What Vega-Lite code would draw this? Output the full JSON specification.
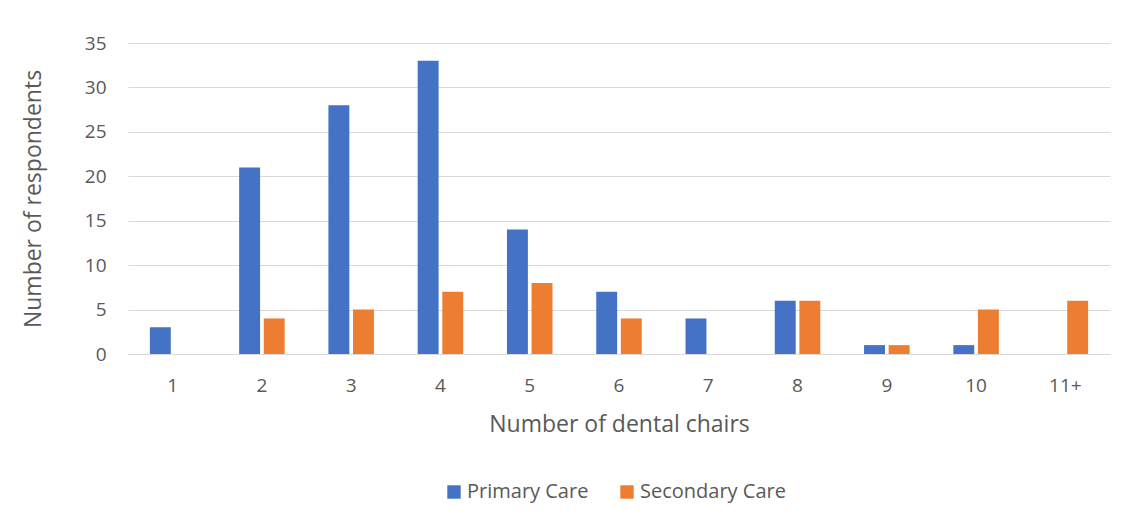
{
  "$schema": "https://vega.github.io/schema/vega-lite/v6.json",
  "autosize": {"type": "none"},
  "width": 982,
  "height": 311,
  "padding": {"left": 128, "top": 43, "right": 27, "bottom": 171},
  "background": "white",
  "data": {"values": [
    {"chairs": "1", "care": "Primary Care", "n": 3},
    {"chairs": "2", "care": "Primary Care", "n": 21},
    {"chairs": "3", "care": "Primary Care", "n": 28},
    {"chairs": "4", "care": "Primary Care", "n": 33},
    {"chairs": "5", "care": "Primary Care", "n": 14},
    {"chairs": "6", "care": "Primary Care", "n": 7},
    {"chairs": "7", "care": "Primary Care", "n": 4},
    {"chairs": "8", "care": "Primary Care", "n": 6},
    {"chairs": "9", "care": "Primary Care", "n": 1},
    {"chairs": "10", "care": "Primary Care", "n": 1},
    {"chairs": "11+", "care": "Primary Care", "n": 0},
    {"chairs": "1", "care": "Secondary Care", "n": 0},
    {"chairs": "2", "care": "Secondary Care", "n": 4},
    {"chairs": "3", "care": "Secondary Care", "n": 5},
    {"chairs": "4", "care": "Secondary Care", "n": 7},
    {"chairs": "5", "care": "Secondary Care", "n": 8},
    {"chairs": "6", "care": "Secondary Care", "n": 4},
    {"chairs": "7", "care": "Secondary Care", "n": 0},
    {"chairs": "8", "care": "Secondary Care", "n": 6},
    {"chairs": "9", "care": "Secondary Care", "n": 1},
    {"chairs": "10", "care": "Secondary Care", "n": 5},
    {"chairs": "11+", "care": "Secondary Care", "n": 6}
  ]},
  "mark": {"type": "bar"},
  "encoding": {
    "x": {
      "field": "chairs", "type": "nominal", "sort": null,
      "scale": {"paddingInner": 0.49, "paddingOuter": 0.245},
      "axis": {
        "title": "Number of dental chairs", "labelAngle": 0, "ticks": false,
        "domain": true, "domainColor": "#d9d9d9", "domainWidth": 1,
        "labelPadding": 22, "titlePadding": 18, "grid": false
      }
    },
    "xOffset": {"field": "care", "type": "nominal", "scale": {"paddingInner": 0.15}},
    "y": {
      "field": "n", "type": "quantitative",
      "scale": {"domain": [0, 35]},
      "axis": {
        "title": "Number of respondents", "values": [0, 5, 10, 15, 20, 25, 30, 35],
        "ticks": false, "domain": false, "grid": true, "gridColor": "#d9d9d9",
        "labelPadding": 22, "titlePadding": 39
      }
    },
    "color": {
      "field": "care", "type": "nominal",
      "scale": {"domain": ["Primary Care", "Secondary Care"], "range": ["#4472c4", "#ed7d31"]},
      "legend": {
        "title": null, "orient": "none", "direction": "horizontal",
        "legendX": 316, "legendY": 439, "symbolType": "square", "symbolSize": 180,
        "columnPadding": 28, "labelOffset": 3, "labelFontSize": 20, "labelColor": "#595959", "labelFont": "Open Sans"
      }
    }
  },
  "config": {
    "view": {"stroke": null},
    "axis": {
      "labelFont": "Open Sans", "titleFont": "Open Sans", "labelFontSize": 19, "titleFontSize": 23,
      "labelColor": "#595959", "titleColor": "#595959", "titleFontWeight": "normal"
    }
  }
}
